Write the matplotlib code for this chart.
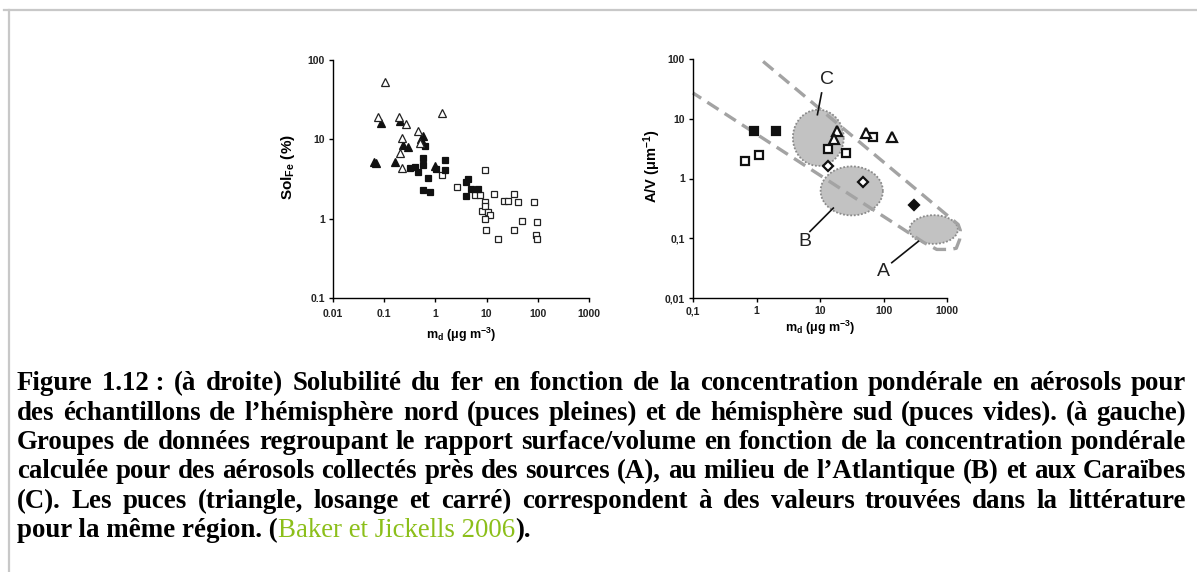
import numpy as np
import matplotlib
matplotlib.use("Agg")
import matplotlib.pyplot as plt
from matplotlib.lines import Line2D
from matplotlib.ticker import FixedLocator, FixedFormatter, NullLocator

plt.rcParams['font.family'] = ['Liberation Sans', 'DejaVu Sans']
plt.rcParams['mathtext.fontset'] = 'custom'
plt.rcParams['mathtext.rm'] = 'Liberation Sans:bold'
plt.rcParams['mathtext.it'] = 'Liberation Sans:bold'
plt.rcParams['mathtext.bf'] = 'Liberation Sans:bold'

# --- panneau gauche : solubilite du fer ---
left_open_tri_x = [0.102, 0.077, 0.197, 0.27, 1.37, 0.46, 0.22, 0.50, 0.20, 0.22]
left_open_tri_y = [53, 19.2, 19.0, 15.7, 21.4, 12.8, 10.4, 9.0, 6.8, 4.4]
left_fill_tri_x = [0.063, 0.068, 0.085, 0.20, 0.164, 0.235, 0.29, 0.53, 0.56, 0.97]
left_fill_tri_y = [5.2, 5.1, 16.0, 16.8, 5.2, 8.5, 8.0, 10.1, 11.0, 4.6]
left_fill_sq_x = [0.32, 0.40, 0.58, 0.58, 0.62, 1.05, 1.57, 1.57, 0.56, 0.80,
                  0.73, 4.4, 4.0, 5.0, 4.0, 6.9, 0.46]
left_fill_sq_y = [4.4, 4.5, 5.8, 4.8, 8.2, 4.2, 5.5, 4.1, 2.3, 2.2,
                  3.3, 3.2, 2.9, 2.4, 1.94, 2.4, 3.9]
left_open_sq_x = [1.37, 2.6, 9.1, 6.0, 7.3, 13.7, 9.1, 8.0, 9.2, 10.6, 11.8, 9.5, 9.9,
                  21.5, 26.6, 33.7, 41.8, 83, 50, 98, 34, 16.4, 92, 98]
left_open_sq_y = [3.6, 2.5, 4.1, 2.0, 2.0, 2.05, 1.6, 1.25, 1.45, 1.2, 1.1, 1.0, 0.73,
                  1.67, 1.65, 2.05, 1.6, 1.6, 0.94, 0.92, 0.71, 0.56, 0.63, 0.56]

# --- panneau droit : rapport A/V ---
right_fill_sq_x = [0.91, 2.0]
right_fill_sq_y = [6.2, 6.2]
right_open_sq_x = [0.65, 1.1, 13.2, 25.4, 68]
right_open_sq_y = [2.0, 2.5, 3.1, 2.65, 4.9]
right_open_tri_x = [18.2, 16.8, 53, 135]
right_open_tri_y = [6.3, 4.5, 5.8, 5.0]
right_open_dia_x = [13.4, 48]
right_open_dia_y = [1.65, 0.87]
right_fill_dia_x = [302]
right_fill_dia_y = [0.36]

# groupes (centre, demi-axes en decades)
group_names = ['C', 'B', 'A']
group_cx = [9.4, 31.6, 617]
group_cy = [4.8, 0.62, 0.14]
group_rx = [0.40, 0.49, 0.38]
group_ry = [0.47, 0.41, 0.24]
label_x = [12.7, 5.8, 100]
label_y = [45, 0.089, 0.028]
leader_x0 = [10.6, 6.95, 135]
leader_y0 = [27, 0.13, 0.039]
leader_x1 = [9.1, 16.2, 355]
leader_y1 = [11.7, 0.32, 0.089]

# enveloppe en tirets
env_x = [1.27, 1500, 1620, 1580, 1400, 1120, 690, 430, 0.1]
env_y = [91, 0.17, 0.135, 0.095, 0.068, 0.065, 0.065, 0.085, 27]

caption_lines = [
    "Figure 1.12\u00a0: (à droite) Solubilité du fer en fonction de la concentration pondérale en aérosols pour",
    "des échantillons de l’hémisphère nord (puces pleines) et de hémisphère sud (puces vides). (à gauche)",
    "Groupes de données regroupant le rapport surface/volume en fonction de la concentration pondérale",
    "calculée pour des aérosols collectés près des sources (A), au milieu de l’Atlantique (B) et aux Caraïbes",
    "(C). Les puces (triangle, losange et carré) correspondent à des valeurs trouvées dans la littérature",
]

W, H = 1197, 572
fig = plt.figure(figsize=(W / 100, H / 100), dpi=100)

# cadre gris
fig.add_artist(Line2D([4 / W, 1], [1 - 10 / H] * 2, color='#c8c8c8', lw=1.6))
fig.add_artist(Line2D([9 / W] * 2, [0, 1 - 10 / H], color='#c8c8c8', lw=1.6))


def style_axes(ax, xt, xl, yt, yl):
    ax.set_xscale('log')
    ax.set_yscale('log')
    ax.set_xlim(xt[0], xt[-1])
    ax.set_ylim(yt[0], yt[-1])
    for s in ['top', 'right']:
        ax.spines[s].set_visible(False)
    for s in ['left', 'bottom']:
        ax.spines[s].set_linewidth(1.0)
    ax.xaxis.set_major_locator(FixedLocator(xt))
    ax.xaxis.set_major_formatter(FixedFormatter(xl))
    ax.yaxis.set_major_locator(FixedLocator(yt))
    ax.yaxis.set_major_formatter(FixedFormatter(yl))
    ax.xaxis.set_minor_locator(NullLocator())
    ax.yaxis.set_minor_locator(NullLocator())
    ax.tick_params(length=3, width=1, labelsize=7.5, pad=3)
    ax.tick_params(axis='x', pad=5)
    for lab in ax.get_xticklabels() + ax.get_yticklabels():
        lab.set_fontweight('bold')
        lab.set_color('#222222')


# panneau gauche
ax1 = fig.add_axes([333 / W, 1 - 298 / H, 256 / W, 238 / H])
style_axes(ax1, [0.01, 0.1, 1, 10, 100, 1000], ['0.01', '0.1', '1', '10', '100', '1000'],
           [0.1, 1, 10, 100], ['0.1', '1', '10', '100'])
ms1 = 4.8
ew1 = 0.9
ax1.plot(left_open_sq_x, left_open_sq_y, 's', ms=ms1, mfc='white', mec='#222', mew=ew1)
ax1.plot(left_fill_sq_x, left_fill_sq_y, 's', ms=ms1, mfc='#111', mec='#111', mew=ew1)
ax1.plot(left_fill_tri_x, left_fill_tri_y, '^', ms=ms1 + 0.6, mfc='#111', mec='#111', mew=ew1)
ax1.plot(left_open_tri_x, left_open_tri_y, '^', ms=ms1 + 0.6, mfc='white', mec='#222', mew=ew1)
ax1.set_xlabel(r'm$_d$ ($\mathrm{\mu}$g m$^{-3}$)', fontsize=9, fontweight='bold', labelpad=5)
ax1.set_ylabel(r'Sol$_{Fe}$ (%)', fontsize=11, fontweight='bold', labelpad=8)
ax1.yaxis.set_label_coords(-0.14, 0.55)

# panneau droit
ax2 = fig.add_axes([693 / W, 1 - 298 / H, 254 / W, 239 / H])
style_axes(ax2, [0.1, 1, 10, 100, 1000], ['0,1', '1', '10', '100', '1000'],
           [0.01, 0.1, 1, 10, 100], ['0,01', '0,1', '1', '10', '100'])
ax2.tick_params(axis='x', pad=3)

# ellipses des groupes (en espace log)
t = np.linspace(0, 2 * np.pi, 200)
for i in range(len(group_names)):
    ex = 10 ** (np.log10(group_cx[i]) + group_rx[i] * np.cos(t))
    ey = 10 ** (np.log10(group_cy[i]) + group_ry[i] * np.sin(t))
    ax2.fill(ex, ey, facecolor='#c2c2c2', edgecolor='#8a8a8a', lw=1.3, ls=(0, (1, 1)),
             zorder=1, clip_on=False)

ax2.plot(env_x, env_y, color='#a3a3a3', lw=2.4, ls=(0, (4, 2.2)), clip_on=False, zorder=2)

for i in range(len(group_names)):
    ax2.plot([leader_x0[i], leader_x1[i]], [leader_y0[i], leader_y1[i]], color='#111', lw=1.2, zorder=3)
    ax2.text(label_x[i], label_y[i], group_names[i], fontsize=14, color='#222',
             ha='center', va='center', zorder=4)

ms2 = 6.0
ew2 = 1.6
ax2.plot(right_fill_sq_x, right_fill_sq_y, 's', ms=ms2, mfc='#111', mec='#111', mew=ew2, zorder=5)
ax2.plot(right_open_sq_x, right_open_sq_y, 's', ms=ms2, mfc='white', mec='#111', mew=ew2, zorder=5)
ax2.plot(right_open_tri_x, right_open_tri_y, '^', ms=ms2 + 0.8, mfc='white', mec='#111', mew=ew2, zorder=5)
ax2.plot(right_open_dia_x, right_open_dia_y, 'D', ms=ms2 - 1.4, mfc='white', mec='#111', mew=ew2, zorder=5)
ax2.plot(right_fill_dia_x, right_fill_dia_y, 'D', ms=ms2 - 1.4, mfc='#111', mec='#111', mew=ew2, zorder=5)
ax2.set_xlabel(r'm$_d$ ($\mathrm{\mu}$g m$^{-3}$)', fontsize=9, fontweight='bold', labelpad=2)
ax2.set_ylabel(r'A/V ($\mathrm{\mu}$m$^{-1}$)', fontsize=10.5, fontweight='bold', labelpad=6)
ax2.yaxis.set_label_coords(-0.12, 0.55)

# legende justifiee
renderer = fig.canvas.get_renderer()
cap_size = 19.4
cap_font = dict(family='Liberation Serif', fontsize=cap_size, fontweight='bold', color='black')
x_left, x_right = 17, 1186
baselines = [390, 420, 449, 478, 508, 537]


def text_width(s, **kw):
    tt = fig.text(0, 0, s, **kw)
    w = tt.get_window_extent(renderer).width
    tt.remove()
    return w


for line, yb in zip(caption_lines, baselines):
    words = line.split(' ')
    widths = [text_width(w, **cap_font) for w in words]
    gap = (x_right - x_left - sum(widths)) / (len(words) - 1)
    x = x_left
    for w, wd in zip(words, widths):
        fig.text(x / W, 1 - yb / H, w, va='baseline', ha='left', **cap_font)
        x += wd + gap

# derniere ligne, non justifiee
segs = [("pour la même région. (", cap_font),
        ("Baker et Jickells 2006", dict(family='Liberation Serif', fontsize=cap_size, color='#8cbf1a')),
        (").", cap_font)]
x = x_left
for s, f in segs:
    fig.text(x / W, 1 - baselines[5] / H, s, va='baseline', ha='left', **f)
    x += text_width(s, **f)

fig.savefig('out.png', dpi=100)
